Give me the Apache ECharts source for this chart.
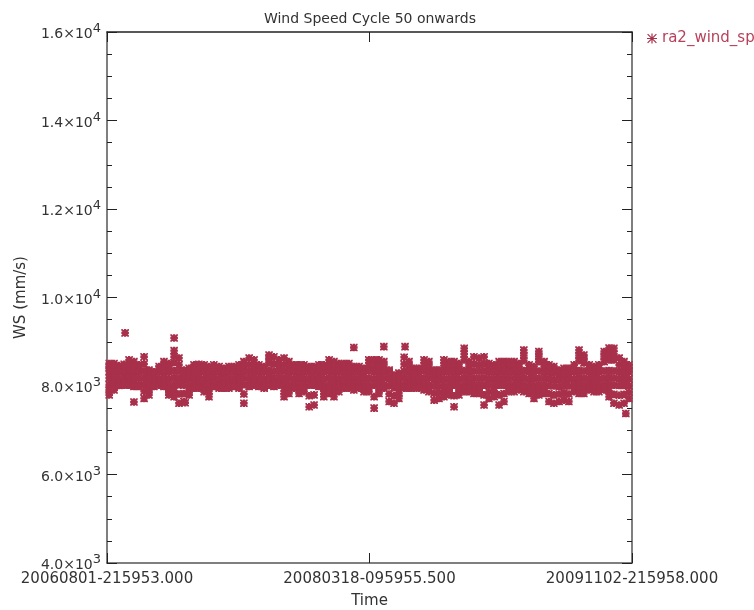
<!DOCTYPE html>
<html>
<head>
<meta charset="utf-8">
<title>Wind Speed Cycle 50 onwards</title>
<script src="https://cdn.jsdelivr.net/npm/echarts@6/dist/echarts.min.js"></script>
<style>
	html, body { margin: 0; padding: 0; background: #fff; }
	#map { width: 754px; height: 610px; }
</style>
</head>
<body>
<div id="map"></div>
<script>
// x tick labels (time axis, days since first sample)
var timeLabels = ['20060801-215953.000', '20080318-095955.500', '20091102-215958.000'];
var spanDays = 1189;

// sample times, in days from 20060801-215953
var obsDay = [5, 16, 27, 39, 50, 61, 72, 84, 95, 106,
	118, 129, 140, 152, 163, 174, 186, 197, 208, 220,
	231, 242, 254, 265, 276, 288, 299, 310, 322, 333,
	344, 356, 367, 378, 390, 401, 412, 424, 435, 446,
	458, 469, 480, 491, 503, 514, 525, 537, 548, 559,
	571, 582, 593, 605, 616, 627, 639, 650, 661, 673,
	684, 695, 707, 718, 729, 741, 752, 763, 775, 786,
	797, 809, 820, 831, 843, 854, 865, 877, 888, 899,
	910, 922, 933, 944, 956, 967, 978, 990, 1001, 1012,
	1024, 1035, 1046, 1058, 1069, 1080, 1092, 1103, 1114, 1126,
	1137, 1148, 1160, 1171, 1182];

// wind speed (mm/s), several readings per sample time, top of the cloud to bottom
var wsTop = [8510, 8510, 8460, 8490, 8590, 8550, 8480, 8660, 8360, 8320,
	8440, 8550, 8510, 8800, 8630, 8360, 8400, 8480, 8490, 8480,
	8440, 8480, 8440, 8400, 8440, 8440, 8480, 8550, 8630, 8590,
	8480, 8440, 8700, 8660, 8590, 8630, 8550, 8480, 8480, 8480,
	8440, 8440, 8480, 8480, 8590, 8550, 8510, 8510, 8510, 8440,
	8440, 8400, 8590, 8590, 8590, 8550, 8360, 8250, 8290, 8650,
	8550, 8400, 8400, 8590, 8550, 8360, 8360, 8590, 8550, 8550,
	8510, 8850, 8550, 8660, 8630, 8660, 8510, 8480, 8550, 8550,
	8550, 8550, 8510, 8810, 8480, 8440, 8780, 8550, 8480, 8440,
	8360, 8400, 8400, 8480, 8810, 8700, 8480, 8440, 8480, 8780,
	8860, 8850, 8630, 8550, 8480];
var wsHigh = [8420, 8420, 8390, 8400, 8460, 8440, 8400, 8500, 8330, 8290,
	8380, 8440, 8420, 8530, 8480, 8320, 8350, 8400, 8410, 8400,
	8380, 8400, 8380, 8350, 8380, 8380, 8400, 8440, 8480, 8460,
	8400, 8380, 8520, 8500, 8460, 8480, 8440, 8400, 8400, 8400,
	8380, 8380, 8400, 8400, 8460, 8440, 8420, 8420, 8420, 8380,
	8380, 8350, 8460, 8460, 8460, 8440, 8320, 8200, 8240, 8490,
	8440, 8350, 8350, 8460, 8440, 8320, 8320, 8460, 8440, 8440,
	8420, 8590, 8440, 8500, 8480, 8500, 8420, 8400, 8440, 8440,
	8440, 8440, 8420, 8570, 8400, 8380, 8550, 8440, 8400, 8380,
	8320, 8350, 8350, 8400, 8570, 8520, 8400, 8380, 8400, 8550,
	8590, 8590, 8480, 8440, 8400];
var wsUpper = [8330, 8320, 8320, 8330, 8340, 8330, 8320, 8340, 8280, 8250,
	8310, 8330, 8320, 8350, 8340, 8270, 8290, 8320, 8330, 8320,
	8310, 8320, 8310, 8300, 8310, 8310, 8320, 8330, 8340, 8340,
	8320, 8310, 8350, 8340, 8340, 8340, 8330, 8320, 8320, 8320,
	8310, 8310, 8320, 8320, 8340, 8330, 8320, 8320, 8320, 8310,
	8310, 8300, 8340, 8330, 8330, 8330, 8270, 8160, 8190, 8340,
	8330, 8300, 8300, 8340, 8330, 8260, 8260, 8330, 8330, 8330,
	8320, 8350, 8330, 8340, 8340, 8340, 8320, 8320, 8330, 8330,
	8330, 8330, 8320, 8350, 8320, 8300, 8340, 8330, 8310, 8300,
	8260, 8280, 8280, 8320, 8350, 8340, 8320, 8310, 8320, 8340,
	8350, 8340, 8330, 8320, 8310];
var wsMid = [8180, 8170, 8180, 8190, 8200, 8190, 8180, 8190, 8160, 8130,
	8170, 8190, 8170, 8190, 8180, 8150, 8160, 8180, 8180, 8170,
	8160, 8180, 8170, 8170, 8170, 8170, 8180, 8180, 8190, 8200,
	8180, 8170, 8200, 8190, 8190, 8180, 8180, 8170, 8170, 8170,
	8160, 8160, 8180, 8170, 8190, 8180, 8170, 8180, 8180, 8170,
	8170, 8160, 8180, 8170, 8180, 8180, 8140, 8060, 8080, 8190,
	8180, 8170, 8170, 8180, 8180, 8130, 8130, 8170, 8170, 8170,
	8170, 8190, 8180, 8180, 8180, 8180, 8170, 8170, 8170, 8170,
	8180, 8180, 8180, 8190, 8170, 8160, 8180, 8180, 8160, 8150,
	8130, 8140, 8140, 8170, 8190, 8180, 8170, 8160, 8170, 8180,
	8190, 8180, 8170, 8160, 8160];
var wsLower = [8030, 8040, 8050, 8060, 8060, 8050, 8040, 8030, 8020, 8030,
	8050, 8040, 8020, 8030, 8030, 8020, 8020, 8040, 8040, 8030,
	8020, 8040, 8030, 8030, 8030, 8040, 8030, 8030, 8040, 8060,
	8040, 8030, 8060, 8050, 8050, 8030, 8030, 8030, 8020, 8030,
	8020, 8020, 8040, 8020, 8030, 8030, 8030, 8040, 8040, 8030,
	8030, 8020, 8030, 8020, 8030, 8040, 8000, 7960, 7970, 8040,
	8040, 8030, 8030, 8040, 8030, 8000, 8000, 8020, 8020, 8020,
	8020, 8030, 8030, 8030, 8030, 8020, 8020, 8020, 8020, 8020,
	8030, 8030, 8040, 8030, 8020, 8010, 8030, 8030, 8010, 8000,
	7990, 8000, 8000, 8030, 8030, 8030, 8030, 8020, 8020, 8030,
	8030, 8020, 8010, 8010, 8010];
var wsLow = [7910, 7975, 8010, 8040, 8040, 8000, 8000, 7880, 7910, 8000,
	8030, 8000, 7910, 7890, 7820, 7830, 7910, 7980, 7980, 7950,
	7890, 8000, 7980, 7980, 7980, 8000, 7980, 7820, 8000, 8040,
	8000, 7980, 8040, 8000, 8030, 7890, 7930, 7980, 7930, 7950,
	7780, 7800, 8000, 7890, 7930, 7890, 7950, 7980, 7980, 7960,
	7980, 7950, 7950, 7760, 7930, 7980, 7820, 7780, 7840, 7980,
	7980, 7980, 7980, 7960, 7950, 7840, 7860, 7890, 7910, 7780,
	7910, 7950, 7950, 7930, 7930, 7800, 7870, 7890, 7800, 7830,
	7950, 7950, 7970, 7950, 7930, 7860, 7910, 7930, 7830, 7800,
	7820, 7840, 7820, 7950, 7930, 7930, 7970, 7950, 7950, 7970,
	7890, 7810, 7790, 7810, 7860];
var wsBottom = [7800, 7910, 8020, 8020, 8020, 7990, 7990, 7720, 7800, 7990,
	8020, 7990, 7800, 7760, 7610, 7650, 7800, 7950, 7950, 7870,
	7760, 7990, 7950, 7950, 7950, 7990, 7950, 7610, 7990, 8020,
	7990, 7950, 8020, 7990, 8020, 7760, 7830, 7950, 7830, 7870,
	7530, 7570, 7990, 7760, 7830, 7760, 7870, 7950, 7950, 7910,
	7950, 7870, 7870, 7500, 7830, 7950, 7650, 7610, 7720, 7950,
	7950, 7950, 7950, 7910, 7870, 7680, 7720, 7760, 7800, 7530,
	7800, 7870, 7870, 7830, 7830, 7570, 7720, 7760, 7570, 7650,
	7870, 7870, 7910, 7870, 7830, 7720, 7800, 7830, 7650, 7610,
	7650, 7680, 7650, 7870, 7830, 7830, 7910, 7870, 7870, 7910,
	7760, 7610, 7570, 7610, 7720];

// spikes above the cloud
var spikeDay = [152, 367, 809, 944, 978, 1069, 1080, 1126, 1137, 1148];
var spikeWs = [8660, 8610, 8720, 8690, 8665, 8690, 8610, 8665, 8730, 8720];

// isolated readings
var lonelyDay = [41, 61, 152, 177, 559, 627, 675, 1175];
var lonelyWs = [9200, 7640, 9085, 7620, 8870, 8890, 8890, 7380];

// asterisk marker (thick strokes for the plot, thin for the legend)
var starFat = 'path://M3.4,0h3.2v10h-3.2z M0,3.4h10v3.2h-10z M1.8,0L10,8.2L8.2,10L0,1.8z M8.2,0L10,1.8L1.8,10L0,8.2z M0,0h2v2h-2z M8,0h2v2h-2z M0,8h2v2h-2z M8,8h2v2h-2z';
var starThin = 'path://M4.4,0h1.2v10h-1.2z M0,4.4h10v1.2h-10z M1,0.2L9.8,9L9,9.8L0.2,1z M9,0.2L9.8,1L1,9.8L0.2,9z';

function drawChart() {
	var myChart = echarts.init(document.getElementById('map'));

	var points = [];
	var cols = [wsTop, wsHigh, wsUpper, wsMid, wsLower, wsLow, wsBottom];
	for (var c = 0; c < cols.length; c++) {
		for (var i = 0; i < obsDay.length; i++) {
			points.push([obsDay[i], cols[c][i]]);
		}
	}
	for (var i = 0; i < spikeDay.length; i++) {
		points.push([spikeDay[i], spikeWs[i]]);
	}
	for (var i = 0; i < lonelyDay.length; i++) {
		points.push([lonelyDay[i], lonelyWs[i]]);
	}

	var lineCol = '#555';
	var txtCol = '#222';

	var option = {
		backgroundColor: '#fff',
		animation: false,
		textStyle: { fontFamily: 'DejaVu Sans' },
		grid: { left: 107, right: 122, top: 32, bottom: 47, outerBoundsMode: 'none', containLabel: false },
		graphic: [{
			type: 'text',
			x: 370, y: 19,
			style: {
				text: 'Wind Speed Cycle 50 onwards',
				fill: '#333',
				font: '14px "DejaVu Sans"',
				textAlign: 'center',
				textVerticalAlign: 'middle'
			}
		}],
		legend: {
			left: 642, top: 26,
			itemWidth: 10, itemHeight: 10, itemGap: 6,
			textStyle: { color: '#B8405A', fontSize: 15, fontFamily: 'DejaVu Sans' },
			data: [{ name: 'ra2_wind_speed', icon: starThin }]
		},
		xAxis: [{
			type: 'value',
			position: 'bottom',
			min: 0, max: spanDays, interval: spanDays / 2,
			axisLine: { show: true, onZero: false, lineStyle: { color: lineCol, width: 1.5 } },
			axisTick: { show: true, inside: true, length: 10, lineStyle: { color: txtCol } },
			splitLine: { show: false },
			axisLabel: {
				color: '#333', fontSize: 15, margin: 9,
				showMinLabel: true, showMaxLabel: true,
				formatter: function(v) {
					return timeLabels[Math.round(v / (spanDays / 2))];
				}
			},
			name: 'Time', nameLocation: 'middle', nameGap: 31,
			nameTextStyle: { color: '#333', fontSize: 15 }
		}, {
			type: 'value',
			position: 'top',
			min: 0, max: spanDays, interval: spanDays / 2,
			axisLine: { show: true, onZero: false, lineStyle: { color: '#222', width: 1.5 } },
			axisTick: { show: true, inside: true, length: 10, lineStyle: { color: txtCol } },
			splitLine: { show: false },
			axisLabel: { show: false }
		}],
		yAxis: [{
			type: 'value',
			position: 'left',
			min: 4000, max: 16000, interval: 2000,
			axisLine: { show: true, onZero: false, lineStyle: { color: lineCol, width: 1.5 } },
			axisTick: { show: true, inside: true, length: 10, lineStyle: { color: txtCol } },
			minorTick: { show: true, splitNumber: 4, length: 5, lineStyle: { color: txtCol } },
			splitLine: { show: false },
			axisLabel: {
				margin: 6,
				formatter: function(v) {
					var e = Math.floor(Math.log10(v));
					var m = (v / Math.pow(10, e)).toFixed(1);
					return '{b|' + m + '×10}{s|' + e + '}';
				},
				rich: {
					b: { fontSize: 14, color: '#333', lineHeight: 19, verticalAlign: 'bottom', fontFamily: 'DejaVu Sans' },
					s: { fontSize: 13, color: '#333', lineHeight: 19, verticalAlign: 'top', fontFamily: 'DejaVu Sans' }
				}
			},
			name: 'WS (mm/s)', nameLocation: 'middle', nameGap: 78,
			nameTextStyle: { color: '#333', fontSize: 15 }
		}, {
			type: 'value',
			position: 'right',
			min: 4000, max: 16000, interval: 2000,
			axisLine: { show: true, onZero: false, lineStyle: { color: lineCol, width: 1.5 } },
			axisTick: { show: true, inside: true, length: 10, lineStyle: { color: txtCol } },
			minorTick: { show: true, splitNumber: 4, length: 5, lineStyle: { color: txtCol } },
			splitLine: { show: false },
			axisLabel: { show: false }
		}],
		series: [{
			name: 'ra2_wind_speed',
			type: 'scatter',
			xAxisIndex: 0,
			yAxisIndex: 0,
			symbol: starFat,
			symbolSize: 7.6,
			itemStyle: { color: '#A8304A', opacity: 1 },
			data: points
		}]
	};

	myChart.setOption(option);
	window.addEventListener("resize", function() {
		myChart.resize();
	});
}

drawChart();
</script>
</body>
</html>
